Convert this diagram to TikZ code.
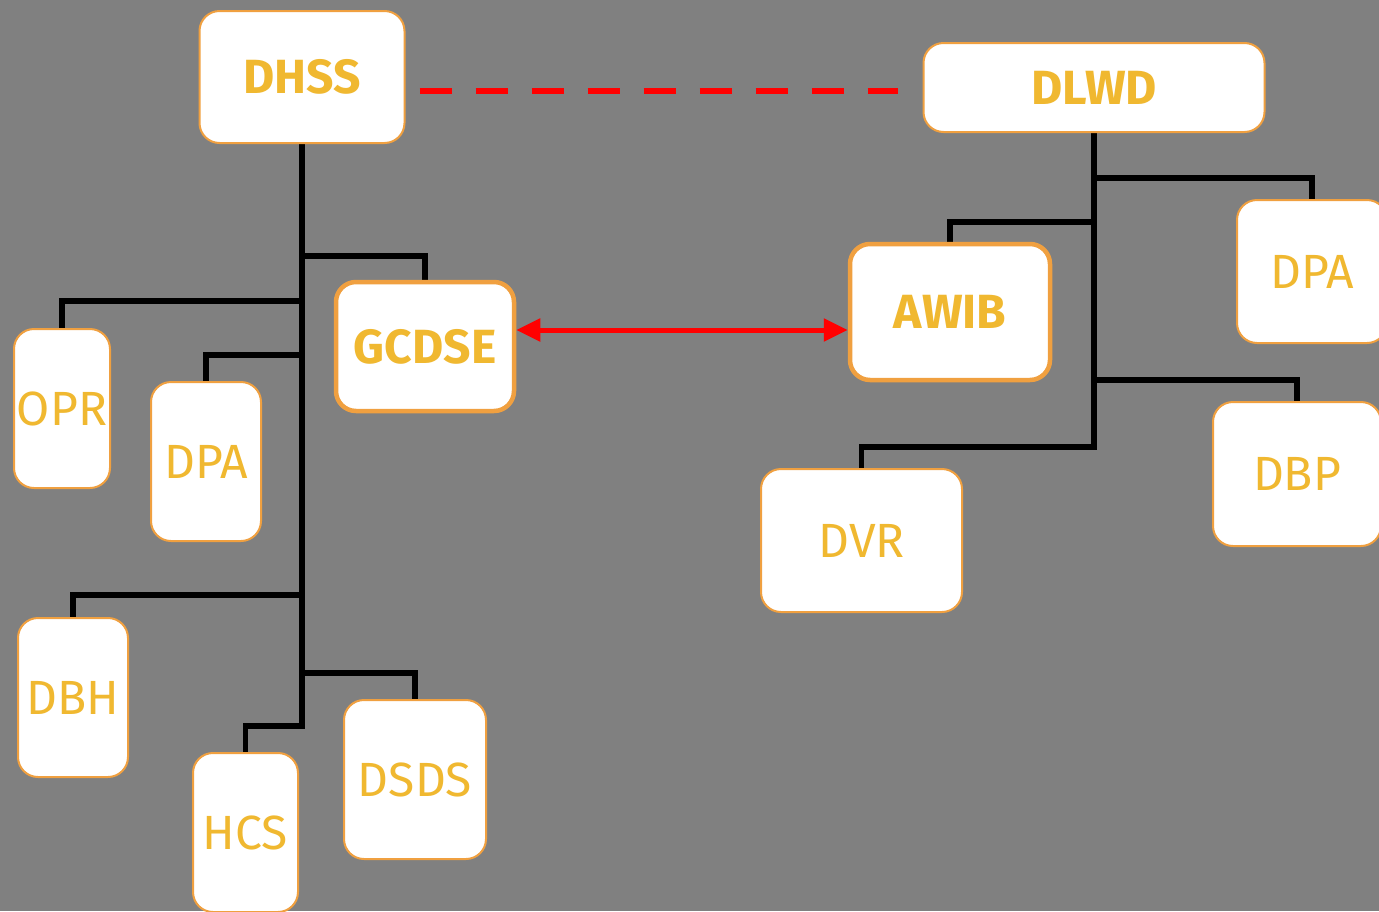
\documentclass[tikz,border=0pt]{standalone}
\usepackage{fontspec}
\setmainfont{Fira Sans}
\usetikzlibrary{arrows.meta}
\definecolor{panel}{HTML}{808080}
\definecolor{boxline}{HTML}{F0A040}
\definecolor{label}{HTML}{F0B830}
\pgfdeclarelayer{bg}
\pgfdeclarelayer{wires}
\pgfsetlayers{bg,wires,main}
\tikzset{
  unit/.style={draw=boxline, fill=white, line width=2pt, rounded corners=20pt,
    inner sep=0pt, text=label, font=\fontsize{48}{52}\selectfont},
  headunit/.style={unit, font=\fontsize{48}{52}\selectfont\bfseries},
  keyunit/.style={unit, line width=4.5pt, font=\fontsize{48}{52}\selectfont\bfseries},
  wire/.style={line width=5.5pt, line join=miter, black},
  trunk/.style={wire, line width=6pt},
  liaison/.style={line width=6pt, red, dash pattern=on 32pt off 24pt},
  link/.style={line width=5pt, red, {Triangle[length=24pt,width=22pt]}-{Triangle[length=24pt,width=22pt]}},
}
\begin{document}
\begin{tikzpicture}[x=1pt,y=-1pt]
\useasboundingbox (0,0) rectangle (1379,911);
\clip (0,0) rectangle (1379,911);
\begin{pgfonlayer}{bg}
  \fill[panel] (0,0) rectangle (1379,911);
\end{pgfonlayer}

% left organisation
\node[headunit, minimum width=205pt, minimum height=132pt] (dhss) at (302,77) {DHSS};
\node[keyunit, minimum width=178pt, minimum height=129pt] (gcdse) at (425,346.5) {GCDSE};
\node[unit, minimum width=96pt, minimum height=159pt] (opr) at (62,408.5) {OPR};
\node[unit, minimum width=110pt, minimum height=159pt] (dpal) at (206,461.5) {DPA};
\node[unit, minimum width=110pt, minimum height=159pt] (dbh) at (73,697.5) {DBH};
\node[unit, minimum width=105pt, minimum height=159pt] (hcs) at (245.5,832.5) {HCS};
\node[unit, minimum width=142pt, minimum height=159pt] (dsds) at (415,779.5) {DSDS};

% right organisation
\node[headunit, minimum width=341pt, minimum height=89pt] (dlwd) at (1094,87.5) {DLWD};
\node[keyunit, minimum width=200pt, minimum height=136pt] (awib) at (950,312) {AWIB};
\node[unit, minimum width=150pt, minimum height=143pt] (dpar) at (1312,271.5) {DPA};
\node[unit, minimum width=168pt, minimum height=144pt] (dbp) at (1297,474) {DBP};
\node[unit, minimum width=201pt, minimum height=143pt] (dvr) at (861.5,540.5) {DVR};

% junctions on the trunks
\coordinate (lg) at (302,256);
\coordinate (lo) at (302,301);
\coordinate (lp) at (302,355);
\coordinate (lb) at (302,595);
\coordinate (ls) at (302,673);
\coordinate (lh) at (302,726);
\coordinate (rp) at (1094,178);
\coordinate (ra) at (1094,222);
\coordinate (rb) at (1094,380);
\coordinate (rv) at (1094,447);

\begin{pgfonlayer}{wires}
  \draw[wire] (gcdse.north) |- (lg);
  \draw[wire] (opr.north) |- (lo);
  \draw[wire] (dpal.north) |- (lp);
  \draw[wire] (dbh.north) |- (lb);
  \draw[wire] (dsds.north) |- (ls);
  \draw[wire] (hcs.north) |- ([xshift=3pt]lh);
  \draw[trunk] (dhss.south) -- ([yshift=-2.75pt]lh);

  \draw[wire] (dpar.north) |- (rp);
  \draw[wire] (awib.north) |- (ra);
  \draw[wire] (dbp.north) |- (rb);
  \draw[wire] (dvr.north) |- ([xshift=3pt]rv);
  \draw[trunk] (dlwd.south) -- ([yshift=-2.75pt]rv);
\end{pgfonlayer}

\draw[liaison] ([shift={(14,14)}]dhss.east) -- ([shift={(-25,3.5)}]dlwd.west);
\draw[link] ([yshift=16.5pt]gcdse.east) -- ([yshift=-18pt]awib.west);
\end{tikzpicture}
\end{document}
